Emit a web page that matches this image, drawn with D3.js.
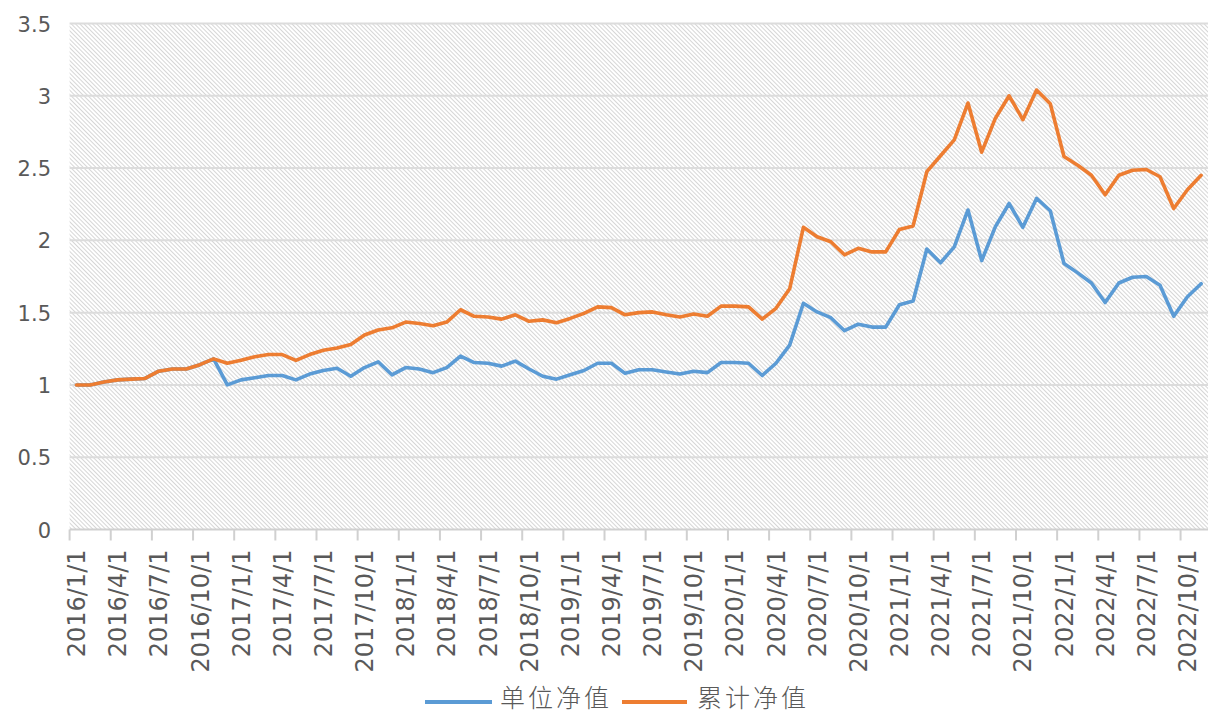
<!DOCTYPE html>
<html><head><meta charset="utf-8">
<script src="https://cdn.jsdelivr.net/npm/d3@7"></script>
<style>html,body{margin:0;padding:0;background:#fff;}svg{display:block;}</style>
</head><body>
<svg id="c" width="1208" height="713"></svg>
<script>
// Monthly categories 2016/1/1 .. 2022/11/1
const categories = [
"2016/1/1","2016/2/1","2016/3/1","2016/4/1","2016/5/1","2016/6/1","2016/7/1","2016/8/1","2016/9/1","2016/10/1","2016/11/1","2016/12/1",
"2017/1/1","2017/2/1","2017/3/1","2017/4/1","2017/5/1","2017/6/1","2017/7/1","2017/8/1","2017/9/1","2017/10/1","2017/11/1","2017/12/1",
"2018/1/1","2018/2/1","2018/3/1","2018/4/1","2018/5/1","2018/6/1","2018/7/1","2018/8/1","2018/9/1","2018/10/1","2018/11/1","2018/12/1",
"2019/1/1","2019/2/1","2019/3/1","2019/4/1","2019/5/1","2019/6/1","2019/7/1","2019/8/1","2019/9/1","2019/10/1","2019/11/1","2019/12/1",
"2020/1/1","2020/2/1","2020/3/1","2020/4/1","2020/5/1","2020/6/1","2020/7/1","2020/8/1","2020/9/1","2020/10/1","2020/11/1","2020/12/1",
"2021/1/1","2021/2/1","2021/3/1","2021/4/1","2021/5/1","2021/6/1","2021/7/1","2021/8/1","2021/9/1","2021/10/1","2021/11/1","2021/12/1",
"2022/1/1","2022/2/1","2022/3/1","2022/4/1","2022/5/1","2022/6/1","2022/7/1","2022/8/1","2022/9/1","2022/10/1","2022/11/1"
];
// 单位净值
const unitNav = [
1.00,1.00,1.02,1.035,1.04,1.045,1.095,1.11,1.11,1.14,1.18,1.00,
1.035,1.05,1.065,1.065,1.035,1.075,1.10,1.115,1.06,1.12,1.16,1.07,
1.12,1.11,1.085,1.12,1.20,1.155,1.15,1.13,1.165,1.11,1.06,1.04,
1.07,1.10,1.15,1.15,1.08,1.105,1.105,1.09,1.075,1.095,1.085,1.155,
1.155,1.15,1.065,1.15,1.275,1.565,1.505,1.465,1.375,1.42,1.40,1.40,
1.555,1.58,1.94,1.845,1.955,2.21,1.86,2.095,2.255,2.09,2.29,2.205,
1.84,1.775,1.705,1.57,1.705,1.745,1.75,1.69,1.475,1.61,1.70
];
// 累计净值
const cumNav = [
1.00,1.00,1.02,1.035,1.04,1.045,1.095,1.11,1.11,1.14,1.18,1.15,
1.17,1.195,1.21,1.21,1.17,1.21,1.24,1.255,1.28,1.345,1.38,1.395,
1.435,1.425,1.41,1.435,1.52,1.475,1.47,1.455,1.485,1.44,1.45,1.43,
1.46,1.495,1.54,1.535,1.485,1.50,1.505,1.485,1.47,1.49,1.475,1.545,
1.545,1.54,1.455,1.53,1.665,2.09,2.025,1.99,1.90,1.945,1.92,1.92,
2.075,2.10,2.475,2.585,2.695,2.95,2.61,2.845,3.00,2.835,3.04,2.945,
2.58,2.52,2.45,2.315,2.45,2.485,2.49,2.44,2.22,2.35,2.45
];
const yTicks = [0,0.5,1,1.5,2,2.5,3,3.5];
const seriesNames = ["单位净值","累计净值"];
const seriesColors = ["#5b9bd5","#ed7d31"];

const svg = d3.select("#c");
const pLeft = 69.6, pRight = 1208, pTop = 23.5, pBottom = 529.5;

const x = d3.scaleBand().domain(categories).range([pLeft, pRight]).padding(0);
const y = d3.scaleLinear().domain([0,3.5]).range([pBottom, pTop]);
const bw = x.bandwidth();
const cx = d => x(d) + bw/2;

// hatch pattern
const defs = svg.append("defs");
const pat = defs.append("pattern").attr("id","hatch").attr("patternUnits","userSpaceOnUse")
  .attr("width",3).attr("height",3).attr("patternTransform","rotate(-45)");
pat.append("rect").attr("width",3).attr("height",3).attr("fill","#ffffff");
pat.append("line").attr("x1",0.5).attr("y1",0).attr("x2",0.5).attr("y2",3)
  .attr("stroke","#d6d6d6").attr("stroke-width",1);

svg.append("rect").attr("x",pLeft).attr("y",pTop).attr("width",pRight-pLeft).attr("height",pBottom-pTop)
  .attr("fill","url(#hatch)");

// gridlines
svg.append("g").selectAll("line").data(yTicks.filter(t=>t>0)).join("line")
  .attr("x1",pLeft).attr("x2",pRight).attr("y1",d=>y(d)).attr("y2",d=>y(d))
  .attr("stroke","#dcdcdc").attr("stroke-width",2);

// y axis labels
const yAxis = d3.axisLeft(y).tickValues(yTicks).tickSize(0).tickPadding(0).tickFormat(d3.format(""));
const gy = svg.append("g").attr("transform","translate(51,0)").call(yAxis);
gy.select(".domain").remove();
gy.selectAll("text").attr("fill","#595959").style("font-family","'DejaVu Sans'").style("font-size","21px")
  .attr("x",0).attr("dy","0.36em");

// x axis
const labelCats = categories.filter((d,i)=>i%3===0);
const xAxis = d3.axisBottom(x).tickValues(labelCats).tickSize(0).tickPadding(0);
const gx = svg.append("g").attr("transform",`translate(0,${pBottom})`).call(xAxis);
gx.select(".domain").remove();
gx.selectAll(".tick line").remove();
gx.selectAll("text").attr("fill","#595959").style("font-family","'DejaVu Sans'").style("font-size","24px")
  .attr("text-anchor","end").attr("transform","rotate(-90)")
  .attr("x",-20).attr("y",0).attr("dy","0.36em");
// axis baseline and tick marks at category boundaries
svg.append("line").attr("x1",pLeft).attr("x2",pRight).attr("y1",pBottom).attr("y2",pBottom)
  .attr("stroke","#d0d0d0").attr("stroke-width",2);
svg.append("g").selectAll("line").data(labelCats).join("line")
  .attr("x1",d=>x(d)).attr("x2",d=>x(d)).attr("y1",pBottom).attr("y2",pBottom+11)
  .attr("stroke","#d0d0d0").attr("stroke-width",2);

// lines
const line = d3.line().x((d,i)=>cx(categories[i])).y(d=>y(d));
[unitNav, cumNav].forEach((s,k)=>{
  svg.append("path").datum(s).attr("d",line).attr("fill","none")
    .attr("stroke",seriesColors[k]).attr("stroke-width",3.6)
    .attr("stroke-linejoin","round").attr("stroke-linecap","round");
});

// legend
const leg = [{x1:425,x2:492,tx:500},{x1:622,x2:687,tx:697}];
leg.forEach((l,k)=>{
  svg.append("line").attr("x1",l.x1).attr("x2",l.x2).attr("y1",702).attr("y2",702)
    .attr("stroke",seriesColors[k]).attr("stroke-width",4);
  svg.append("text").attr("x",l.tx).attr("y",698).attr("dy","0.36em")
    .attr("fill","#595959").style("font-family","'Noto Sans CJK SC'").style("font-size","25px")
    .style("font-weight","300").style("letter-spacing","3px").text(seriesNames[k]);
});
</script>
</body></html>
